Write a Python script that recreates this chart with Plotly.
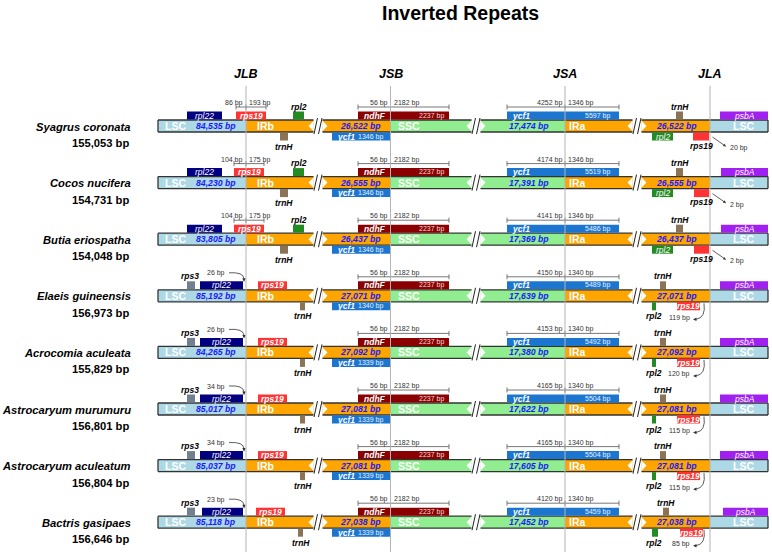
import plotly.graph_objects as go

# ---------------- data ----------------
species = ["Syagrus coronata", "Cocos nucifera", "Butia eriospatha", "Elaeis guineensis",
           "Acrocomia aculeata", "Astrocaryum murumuru", "Astrocaryum aculeatum", "Bactris gasipaes"]
genome_bp = ["155,053", "154,731", "154,048", "156,973", "155,829", "156,801", "156,804", "156,646"]
lsc_bp = [84535, 84230, 83805, 85192, 84265, 85017, 85037, 85118]
irb_bp = [26522, 26555, 26437, 27071, 27092, 27081, 27081, 27038]
ssc_bp = [17474, 17391, 17369, 17639, 17380, 17622, 17605, 17452]
ira_bp = [26522, 26555, 26437, 27071, 27092, 27081, 27081, 27038]
rps19_jlb_lsc = [86, 104, 104, None, None, None, None, None]
rps19_jlb_ir = [193, 175, 175, None, None, None, None, None]
rpl22_gap = [None, None, None, 26, 26, 34, 34, 23]
ndhF_ir = [56, 56, 56, 56, 56, 56, 56, 56]
ndhF_ssc = [2182, 2182, 2182, 2182, 2182, 2182, 2182, 2182]
ndhF_len = [2237, 2237, 2237, 2237, 2237, 2237, 2237, 2237]
ycf1_jsb = [1346, 1346, 1346, 1340, 1339, 1339, 1339, 1339]
ycf1_jsa_ssc = [4252, 4174, 4141, 4150, 4153, 4165, 4165, 4120]
ycf1_jsa_ir = [1346, 1346, 1346, 1340, 1340, 1340, 1340, 1340]
ycf1_len = [5597, 5519, 5486, 5489, 5492, 5504, 5504, 5459]
rps19_jla_gap = [20, 2, 2, 119, 120, 115, 115, 85]
junction_names = ["JLB", "JSB", "JSA", "JLA"]
region_names = ["LSC", "IRb", "SSC", "IRa", "LSC"]
title = "Inverted Repeats"

# ---------------- schematic layout / style ----------------
W, H = 772, 552
FONT = "Liberation Sans, Arial, Helvetica, sans-serif"
JX = dict(JLB=246, JSB=390.5, JSA=565, JLA=710)
BAR_L, BAR_R = 158, 768
ROW0, ROW_STEP = 126, 56.6
BREAKS = [318, 476, 637]
C = dict(lsc="#add8e6", ir="#ffa500", ssc="#90ee90", rpl22="#000080", rps19="#ff3333",
         rpl2="#228b22", trnH="#8b7355", ndhF="#8b0000", ycf1="#1c76d0", psbA="#a020f0",
         rps3="#708090", num="#1a1aff", jline="#b4b4b4", edge="#333333", small="#333333")
jlb_shift = [0, -2, -2, 0, 0, 0, 0, -2]
jla_shift = [0, 1, 1, 0, 0, 0, 0, 3]

shapes, annots = [], []


def box(x0, x1, y0, y1, color):
    shapes.append(dict(type="rect", xref="x", yref="y", x0=x0, x1=x1, y0=y0, y1=y1,
                       fillcolor=color, line=dict(width=0), layer="above"))


def seg(x0, y0, x1, y1, color, width=1.0):
    shapes.append(dict(type="line", xref="x", yref="y", x0=x0, y0=y0, x1=x1, y1=y1,
                       line=dict(color=color, width=width), layer="above"))


def path(d, fill=None, color=None, width=0.8):
    s = dict(type="path", xref="x", yref="y", path=d, layer="above",
             line=dict(color=color or "rgba(0,0,0,0)", width=width if color else 0))
    if fill:
        s["fillcolor"] = fill
    shapes.append(s)


def txt(x, y, s, size, color="black", anchor="center", bold=False, italic=False):
    if italic:
        s = "<i>" + s + "</i>"
    if bold:
        s = "<b>" + s + "</b>"
    annots.append(dict(x=x, y=y, xref="x", yref="y", text=s, showarrow=False,
                       xanchor=anchor, yanchor="middle",
                       font=dict(size=size, color=color, family=FONT)))


def bracket(x0, xj, x1, y, left_lbl, right_lbl):
    seg(x0, y, x1, y, "#555555", 0.8)
    for xx in (x0, xj, x1):
        seg(xx, y - 2.5, xx, y + 2.5, "#555555", 0.8)
    txt(xj - 1, y - 4, left_lbl, 7, C["small"], "right")
    txt(xj + 1, y - 4, right_lbl, 7, C["small"], "left")


def bp(v):
    return f"{v:,} bp"


# ---------------- rows ----------------
for i in range(len(species)):
    yc = ROW0 + i * ROW_STEP
    top, bot = yc - 6, yc + 6
    ga_top, ga_bot = yc - 14.5, yc - 6.5   # gene above the bar
    gb_top, gb_bot = yc + 6.5, yc + 14.5   # gene below the bar
    groupA = rps19_jlb_lsc[i] is not None

    # species labels
    txt(133, yc + 0.5, species[i], 11.2, "black", "right", True, True)
    txt(131, yc + 17, genome_bp[i] + " bp", 11.2, "black", "right", True, False)

    # region fills
    edges = [BAR_L, JX["JLB"], JX["JSB"], JX["JSA"], JX["JLA"], BAR_R]
    fills = [C["lsc"], C["ir"], C["ssc"], C["ir"], C["lsc"]]
    for k in range(5):
        box(edges[k], edges[k + 1], top, bot, fills[k])

    # break marks
    for c in BREAKS:
        box(c - 4.5, c + 4.5, top - 0.5, bot + 0.5, "white")
        path(f"M {c-4.5},{top+0.8} L {c-4.5},{bot-0.8} L {c-9.5},{yc} Z", fill="white")
        path(f"M {c+4.5},{top+0.8} L {c+4.5},{bot-0.8} L {c+9.5},{yc} Z", fill="white")
        seg(c - 4, bot + 2, c - 0.5, top - 2, "#222222", 1.0)
        seg(c + 0.5, bot + 2, c + 4, top - 2, "#222222", 1.0)

    # outline
    pieces = [(BAR_L, BREAKS[0] - 4.5), (BREAKS[0] + 4.5, BREAKS[1] - 4.5),
              (BREAKS[1] + 4.5, BREAKS[2] - 4.5), (BREAKS[2] + 4.5, BAR_R)]
    for a, b in pieces:
        seg(a, top, b, top, C["edge"], 1.3)
        seg(a, bot, b, bot, C["edge"], 1.3)
    seg(BAR_L, top, BAR_L, bot, C["edge"], 1.3)
    seg(BAR_R, top, BAR_R, bot, C["edge"], 1.3)

    # region labels and lengths
    txt(163, yc, region_names[0], 10.5, "white", "left", True)
    txt(238, yc, bp(lsc_bp[i]), 8.7, C["num"], "right", True, True)
    txt(255, yc, region_names[1], 10.5, "white", "left", True)
    txt(383, yc, bp(irb_bp[i]), 8.7, C["num"], "right", True, True)
    txt(396, yc, region_names[2], 10.5, "white", "left", True)
    txt(551, yc, bp(ssc_bp[i]), 8.7, C["num"], "right", True, True)
    txt(567, yc, region_names[3], 10.5, "white", "left", True)
    txt(699, yc, bp(ira_bp[i]), 8.7, C["num"], "right", True, True)
    txt(743, yc, region_names[4], 10.5, "white", "center", True)

    # ---- JLB ----
    s = jlb_shift[i]
    if groupA:
        box(187, 222, ga_top, ga_bot, C["rpl22"])
        txt(204.5, yc - 10.5, "rpl22", 8.5, "white", "center", False, True)
        box(236 + s, 266 + s, ga_top, ga_bot, C["rps19"])
        txt(251 + s, yc - 10.5, "rps19", 8.5, "white", "center", True, True)
        bracket(236 + s, JX["JLB"], 266 + s, yc - 19, f"{rps19_jlb_lsc[i]} bp", f"{rps19_jlb_ir[i]} bp")
        box(293, 304, ga_top, ga_bot, C["rpl2"])
        txt(298.5, yc - 19.5, "rpl2", 8.5, "black", "center", True, True)
        box(280, 288, gb_top, gb_bot, C["trnH"])
        txt(284, yc + 20.5, "trnH", 8.5, "black", "center", True, True)
    else:
        box(187 + max(s, 0), 195, ga_top, ga_bot, C["rps3"])
        txt(190, yc - 19.5, "rps3", 8.5, "black", "center", True, True)
        box(200 - s, 243, ga_top, ga_bot, C["rpl22"])
        txt(221.5, yc - 10.5, "rpl22", 8.5, "white", "center", False, True)
        txt(227, yc - 22.5, f"{rpl22_gap[i]} bp", 7, C["small"], "right")
        path(f"M 229,{yc-23} Q 243.5,{yc-24} 244,{yc-17}", color="#333333", width=0.8)
        path(f"M 242.3,{yc-17.5} L 245.7,{yc-17.5} L 244,{yc-13.8} Z", fill="#333333")
        box(258 + s, 287 + s, ga_top, ga_bot, C["rps19"])
        txt(272.5 + s, yc - 10.5, "rps19", 8.5, "white", "center", True, True)
        box(300 + s, 305 + s, gb_top, gb_bot, C["trnH"])
        txt(302.5 + s, yc + 20.5, "trnH", 8.5, "black", "center", True, True)

    # ---- JSB ----
    box(358, 449, ga_top, ga_bot, C["ndhF"])
    txt(362, yc - 10.5, "ndhF", 8.5, "white", "left", True, True)
    txt(446, yc - 10.5, f"{ndhF_len[i]} bp", 7, "#f0dcdc", "right")
    bracket(358, JX["JSB"], 449, yc - 19, f"{ndhF_ir[i]} bp", f"{ndhF_ssc[i]} bp")
    box(332, JX["JSB"], gb_top, gb_bot, C["ycf1"])
    txt(335, yc + 10.5, "ycf1", 8.5, "white", "left", True, True)
    txt(385, yc + 10.5, f"{ycf1_jsb[i]} bp", 7, "#e6f0ff", "right")

    # ---- JSA ----
    box(507, 619, ga_top, ga_bot, C["ycf1"])
    txt(510, yc - 10.5, "ycf1", 8.5, "white", "left", True, True)
    txt(612, yc - 10.5, f"{ycf1_len[i]} bp", 7, "#e6f0ff", "right")
    bracket(507, JX["JSA"], 619, yc - 19, f"{ycf1_jsa_ssc[i]} bp", f"{ycf1_jsa_ir[i]} bp")

    # ---- JLA ----
    t = jla_shift[i]
    box(720 + t, BAR_R, ga_top, ga_bot, C["psbA"])
    txt((720 + t + BAR_R) / 2, yc - 10.5, "psbA", 8.5, "white", "center", False, True)
    if groupA:
        box(676, 683, ga_top, ga_bot, C["trnH"])
        txt(679.5, yc - 19.5, "trnH", 8.5, "black", "center", True, True)
        box(652, 673, gb_top, gb_bot, C["rpl2"])
        txt(662.5, yc + 10.5, "rpl2", 8.5, "white", "center", False, True)
        box(693 + t, 709, gb_top, gb_bot, C["rps19"])
        txt(701, yc + 19.5, "rps19", 8.5, "black", "center", True, True)
        annots.append(dict(x=726, y=yc + 20.5, ax=711, ay=yc + 10, xref="x", yref="y",
                           axref="x", ayref="y", text="", showarrow=True, arrowhead=2,
                           arrowsize=0.7, arrowwidth=0.8, arrowcolor="#333333"))
        txt(728, yc + 22, f"{rps19_jla_gap[i]} bp", 7, C["small"], "left")
    else:
        box(660 + t, 666 + t, ga_top, ga_bot, C["trnH"])
        txt(663 + t, yc - 19.5, "trnH", 8.5, "black", "center", True, True)
        box(652, 656 + (t > 0) * 2, gb_top, gb_bot, C["rpl2"])
        txt(654, yc + 20.5, "rpl2", 8.5, "black", "center", True, True)
        box(677 + t, 700 + t, gb_top - 0.5, gb_bot, C["rps19"])
        txt(688.5 + t, yc + 10.5, "rps19", 8.5, "white", "center", True, True)
        txt(692, yc + 22, f"{rps19_jla_gap[i]} bp", 7, C["small"], "right")
        path(f"M 704,{yc+7.5} Q 706,{yc+22} 696,{yc+23.5}", color="#333333", width=0.8)
        path(f"M 696.5,{yc+21.8} L 696.5,{yc+25.2} L 693,{yc+23.6} Z", fill="#333333")

# junction lines and labels
for name in junction_names:
    seg(JX[name], 86, JX[name], H, C["jline"], 1.0)
    txt(JX[name], 74, name, 12.5, "black", "center", True, True)

txt(460, 12.5, title, 19.5, "black", "center", True)

fig = go.Figure()
fig.add_trace(go.Scatter(x=[0, W], y=[0, H], mode="markers",
                         marker=dict(opacity=0), hoverinfo="skip", showlegend=False))
fig.update_layout(
    width=W, height=H, margin=dict(l=0, r=0, t=0, b=0),
    paper_bgcolor="white", plot_bgcolor="white",
    xaxis=dict(range=[0, W], visible=False, fixedrange=True),
    yaxis=dict(range=[H, 0], visible=False, fixedrange=True),
    shapes=shapes, annotations=annots, showlegend=False,
)
fig.write_html("out.html", config={"displayModeBar": False},
               post_script="document.body.style.margin='0px';document.body.style.overflow='hidden';")
